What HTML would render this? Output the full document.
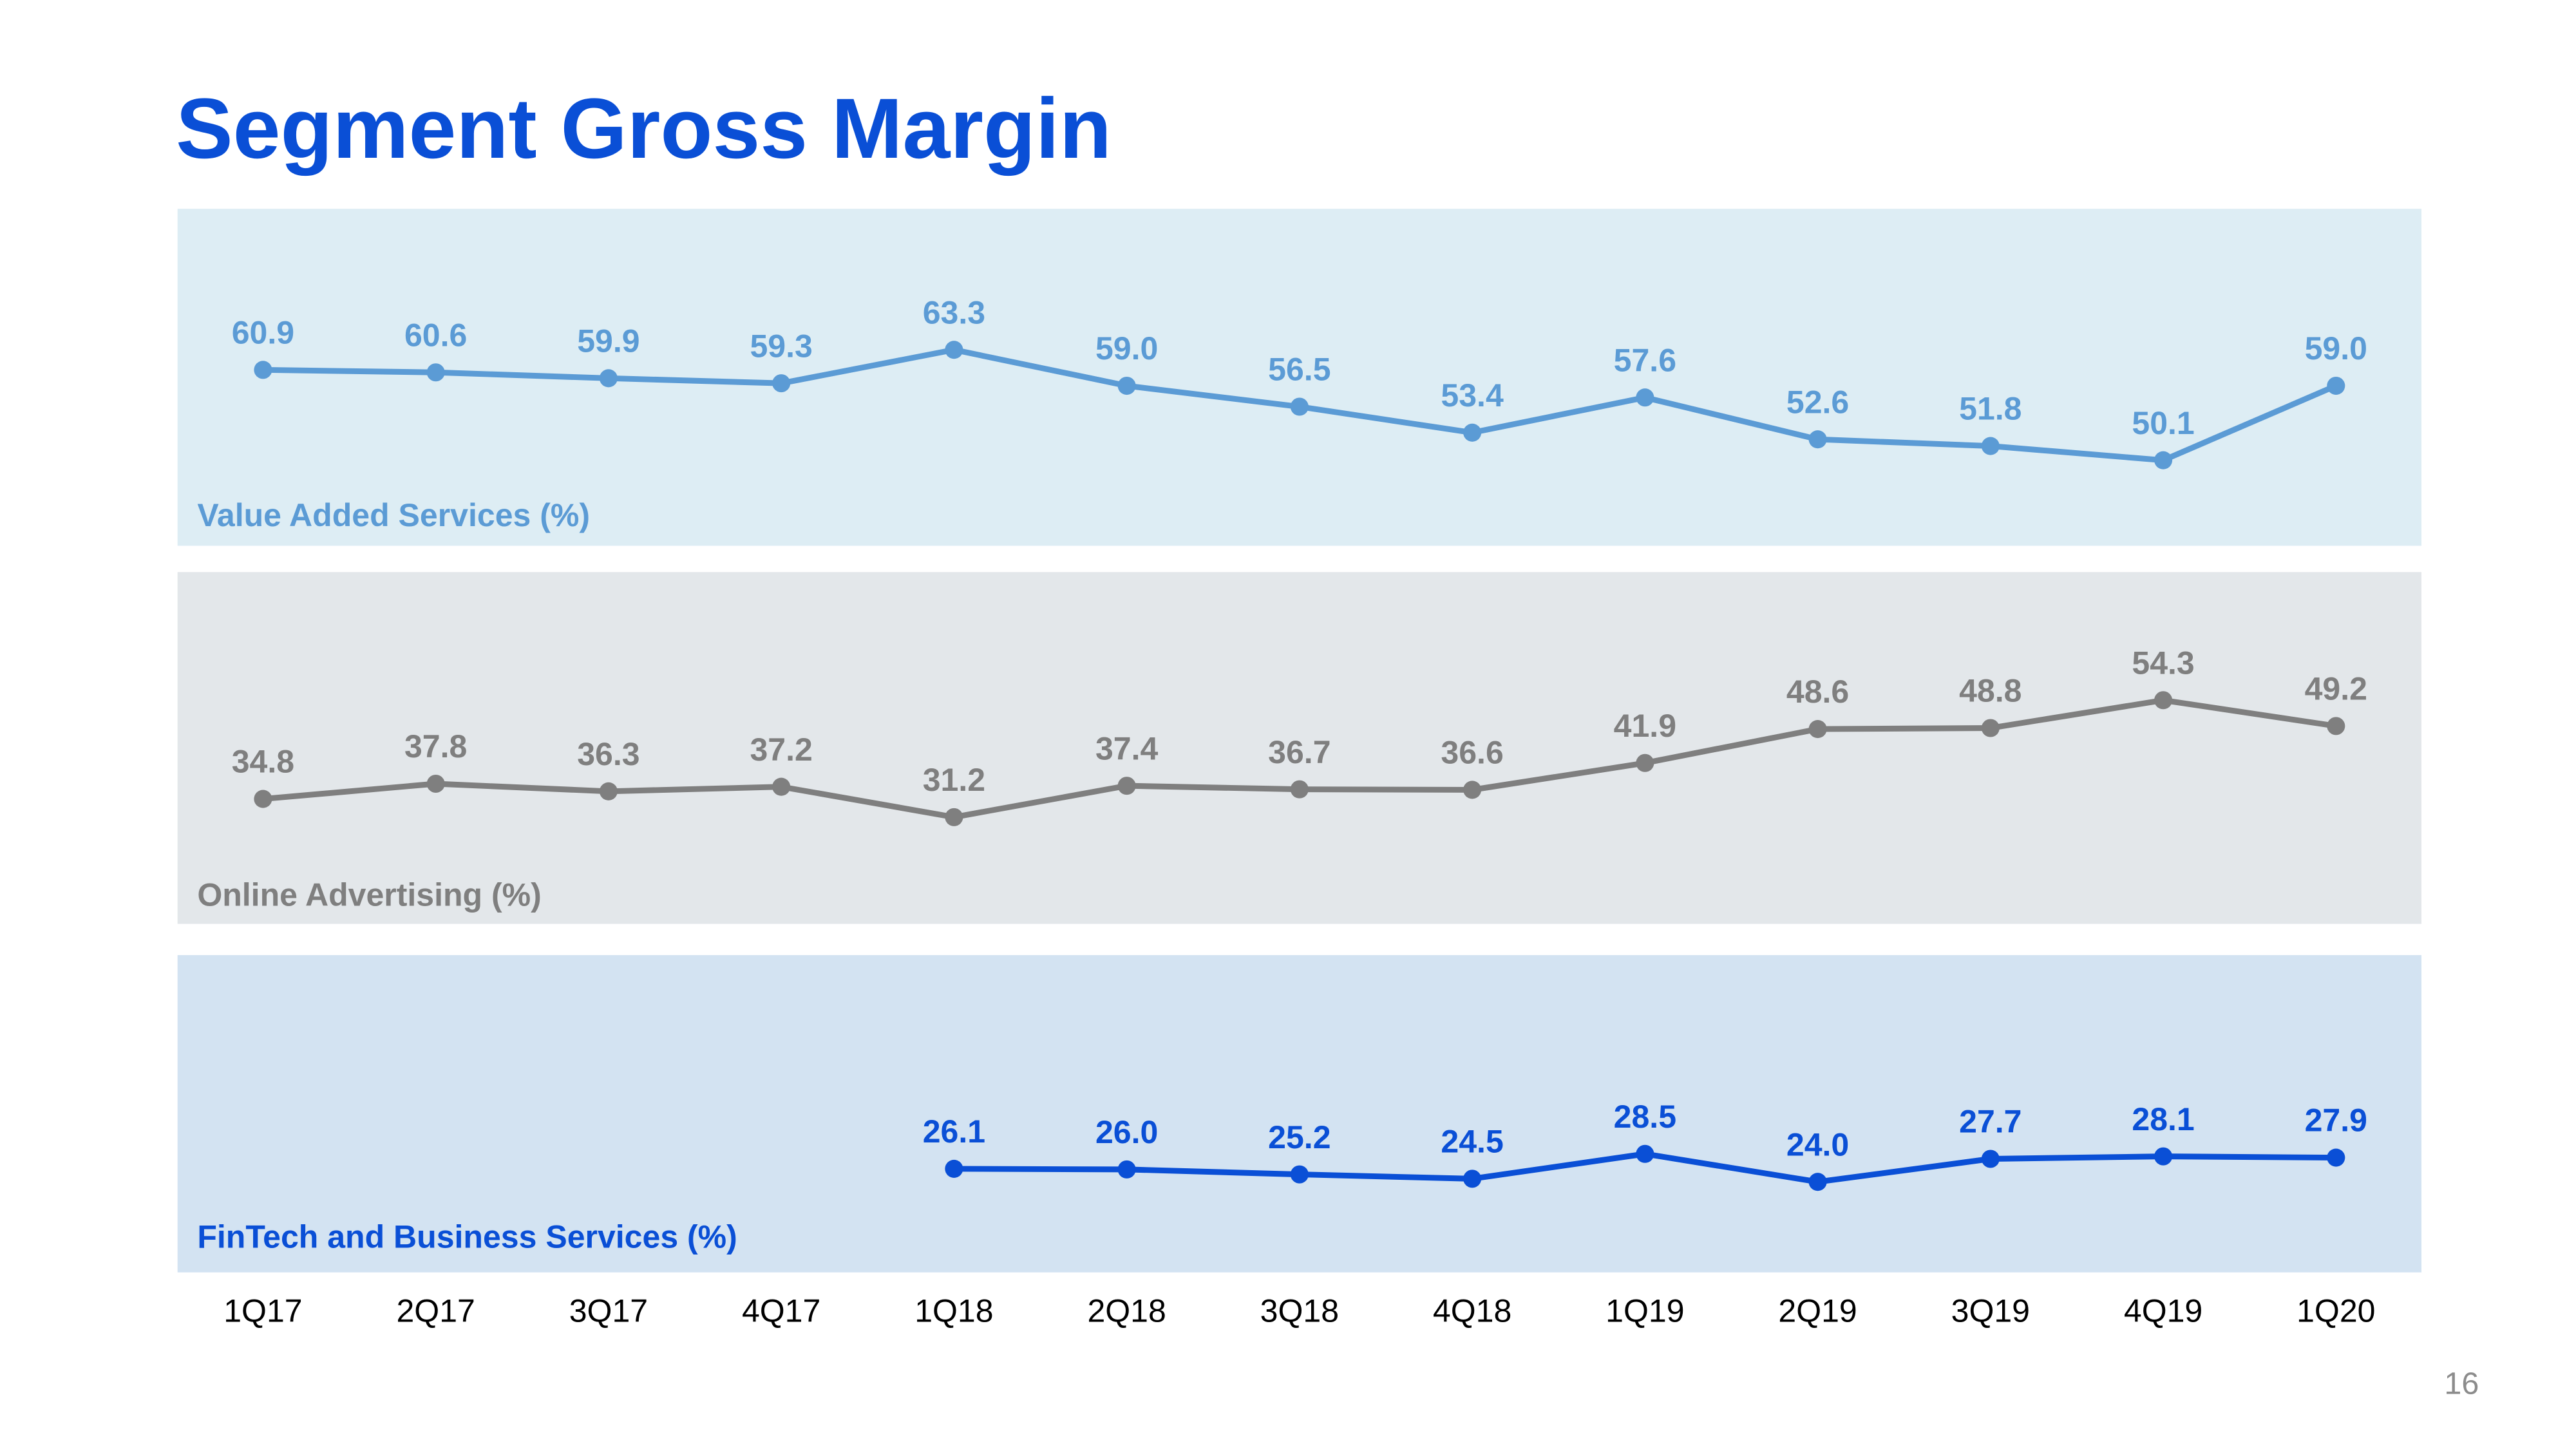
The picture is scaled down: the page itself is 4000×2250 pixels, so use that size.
<!DOCTYPE html>
<html>
<head>
<meta charset="utf-8">
<style>
html,body{margin:0;padding:0;background:#fff;}
svg{display:block;font-family:"Liberation Sans",Arial,sans-serif;}
</style>
</head>
<body>
<svg id="chart" width="4000" height="2250" viewBox="0 0 1567 881.44" xmlns="http://www.w3.org/2000/svg">
  <rect width="1567" height="881.44" fill="#ffffff"/>
  <text x="107" y="96" font-size="52" font-weight="bold" fill="#0a4fd6">Segment Gross Margin</text>
  <rect x="108" y="127" width="1365" height="205" fill="#ddedf4"/>
  <rect x="108" y="348" width="1365" height="214" fill="#e3e7ea"/>
  <rect x="108" y="581" width="1365" height="193" fill="#d3e3f2"/>
  <text x="120" y="320" font-size="19.6" font-weight="bold" fill="#5b9bd5">Value Added Services (%)</text>
  <text x="120" y="551" font-size="19.6" font-weight="bold" fill="#7f7f7f">Online Advertising (%)</text>
  <text x="120" y="759" font-size="19.6" font-weight="bold" fill="#0a4fd6">FinTech and Business Services (%)</text>
  <g id="series"></g>
  <g id="xaxis"></g>
  <text x="1508" y="848" font-size="19" fill="#8c8c8c" text-anchor="end">16</text>
</svg>
<script>
const categories = ["1Q17","2Q17","3Q17","4Q17","1Q18","2Q18","3Q18","4Q18","1Q19","2Q19","3Q19","4Q19","1Q20"];
const vasValues = [60.9,60.6,59.9,59.3,63.3,59.0,56.5,53.4,57.6,52.6,51.8,50.1,59.0];
const adValues = [34.8,37.8,36.3,37.2,31.2,37.4,36.7,36.6,41.9,48.6,48.8,54.3,49.2];
const finValues = [null,null,null,null,26.1,26.0,25.2,24.5,28.5,24.0,27.7,28.1,27.9];

const NS = "http://www.w3.org/2000/svg";
function xScale(i){ return 160 + i * (1421 - 160) / (categories.length - 1); }
function yVas(v){ return 225 - (v - 60.9) * 5.09; }
function yAd(v){ return 486 - (v - 34.8) * 3.08; }
function yFin(v){ return 711 - (v - 26.1) * 3.78; }

const seriesG = document.getElementById('series');
function drawSeries(values, yf, color, key){
  const g = document.createElementNS(NS,'g');
  
  
  seriesG.appendChild(g);
  const pts = [];
  values.forEach((v,i)=>{ if(v!==null) pts.push([xScale(i), yf(v), v, i]); });
  const line = document.createElementNS(NS,'polyline');
  line.setAttribute('points', pts.map(p=>p[0]+','+p[1]).join(' '));
  line.setAttribute('fill','none');
  line.setAttribute('stroke',color);
  line.setAttribute('stroke-width','3.5');
  line.setAttribute('stroke-linejoin','round');
  
  
  g.appendChild(line);
  pts.forEach(p=>{
    const c = document.createElementNS(NS,'circle');
    c.setAttribute('cx',p[0]); c.setAttribute('cy',p[1]); c.setAttribute('r','5.5');
    c.setAttribute('fill',color);
    
    
    g.appendChild(c);
    const t = document.createElementNS(NS,'text');
    t.setAttribute('x',p[0]); t.setAttribute('y',p[1]-16);
    t.setAttribute('text-anchor','middle');
    t.setAttribute('font-size','19.6'); t.setAttribute('font-weight','bold');
    t.setAttribute('fill',color);
    t.textContent = p[2].toFixed(1);
    
    
    g.appendChild(t);
  });
}
drawSeries(vasValues, yVas, '#5b9bd5', 'vas');
drawSeries(adValues, yAd, '#7f7f7f', 'advertising');
drawSeries(finValues, yFin, '#0a4fd6', 'fintech');

const xg = document.getElementById('xaxis');
categories.forEach((c,i)=>{
  const t = document.createElementNS(NS,'text');
  t.setAttribute('x', xScale(i)); t.setAttribute('y', 804);
  t.setAttribute('text-anchor','middle');
  t.setAttribute('font-size','19.6'); t.setAttribute('fill','#000');
  t.textContent = c;
  
  
  xg.appendChild(t);
});
</script>
</body>
</html>
